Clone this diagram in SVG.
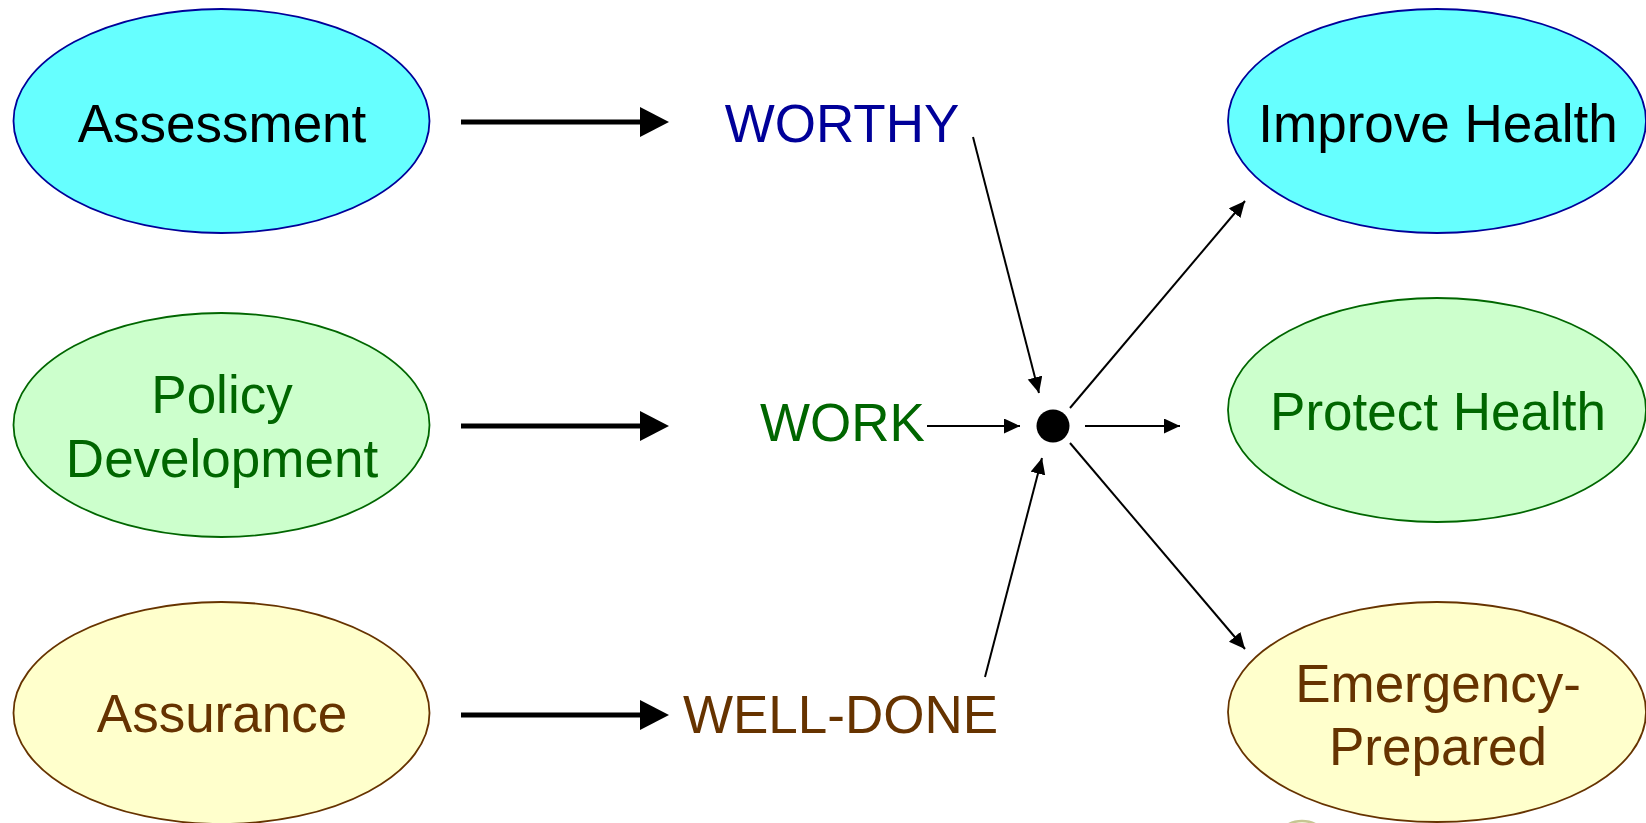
<svg xmlns="http://www.w3.org/2000/svg" width="1646" height="823" viewBox="0 0 1646 823">
<defs>
<style>
text{font-family:"Liberation Sans",Arial,sans-serif;font-size:53px;text-anchor:middle}
.blue{fill:#66FFFF;stroke:#000099;stroke-width:1.8}
.green{fill:#CCFFCC;stroke:#006600;stroke-width:1.8}
.yellow{fill:#FFFFCC;stroke:#663300;stroke-width:1.8}
.tb{fill:#000099}.tg{fill:#006600}.ty{fill:#663300}.tk{fill:#000000}
.thick{stroke:#000;stroke-width:5;fill:none}
.thin{stroke:#000;stroke-width:2;fill:none}
</style>
<marker id="big" markerUnits="userSpaceOnUse" markerWidth="30" markerHeight="32" refX="0" refY="15" orient="auto"><path d="M0,0 L29,15 L0,30 z" fill="#000"/></marker>
<marker id="small" markerUnits="userSpaceOnUse" markerWidth="17" markerHeight="16" refX="16" refY="7.5" orient="auto"><path d="M0,0 L16,7.5 L0,15 z" fill="#000"/></marker>
</defs>
<rect width="1646" height="823" fill="#fff"/>
<g id="assessment"><ellipse class="blue" cx="221.5" cy="121" rx="208" ry="112"/><text class="tk" x="222" y="142">Assessment</text></g>
<g id="policy"><ellipse class="green" cx="221.5" cy="425" rx="208" ry="112"/><text class="tg" x="222" y="413">Policy</text><text class="tg" x="222" y="477">Development</text></g>
<g id="assurance"><ellipse class="yellow" cx="221.5" cy="713" rx="208" ry="111"/><text class="ty" x="222" y="732">Assurance</text></g>
<g id="improve"><ellipse class="blue" cx="1437" cy="121" rx="209" ry="112"/><text class="tk" x="1438" y="142">Improve Health</text></g>
<g id="protect"><ellipse class="green" cx="1437" cy="410" rx="209" ry="112"/><text class="tg" x="1438" y="430">Protect Health</text></g>
<g id="emergency"><ellipse class="yellow" cx="1437" cy="712" rx="209" ry="110"/><text class="ty" x="1438" y="702">Emergency-</text><text class="ty" x="1438" y="765">Prepared</text></g>
<g id="worthy"><text class="tb" x="842" y="142">WORTHY</text></g>
<g id="work"><text class="tg" x="842.5" y="441">WORK</text></g>
<g id="welldone"><text class="ty" x="840.5" y="733">WELL-DONE</text></g>
<g id="hub"><circle cx="1053" cy="426" r="16.5" fill="#000"/></g>
<g id="partial"><circle cx="1302" cy="850" r="29" fill="#FFFFE6" stroke="#B8B878" stroke-width="2.5" opacity="0.8"/></g>
<g id="connectors">
<line class="thick" x1="461" y1="122" x2="640" y2="122" marker-end="url(#big)"/>
<line class="thick" x1="461" y1="426" x2="640" y2="426" marker-end="url(#big)"/>
<line class="thick" x1="461" y1="715" x2="640" y2="715" marker-end="url(#big)"/>
<line class="thin" x1="973" y1="137" x2="1039" y2="393" marker-end="url(#small)"/>
<line class="thin" x1="927" y1="426" x2="1020" y2="426" marker-end="url(#small)"/>
<line class="thin" x1="985" y1="677" x2="1042" y2="458" marker-end="url(#small)"/>
<line class="thin" x1="1070" y1="408" x2="1245" y2="201" marker-end="url(#small)"/>
<line class="thin" x1="1085" y1="426" x2="1180" y2="426" marker-end="url(#small)"/>
<line class="thin" x1="1070" y1="443" x2="1245" y2="649" marker-end="url(#small)"/>
</g>
</svg>
